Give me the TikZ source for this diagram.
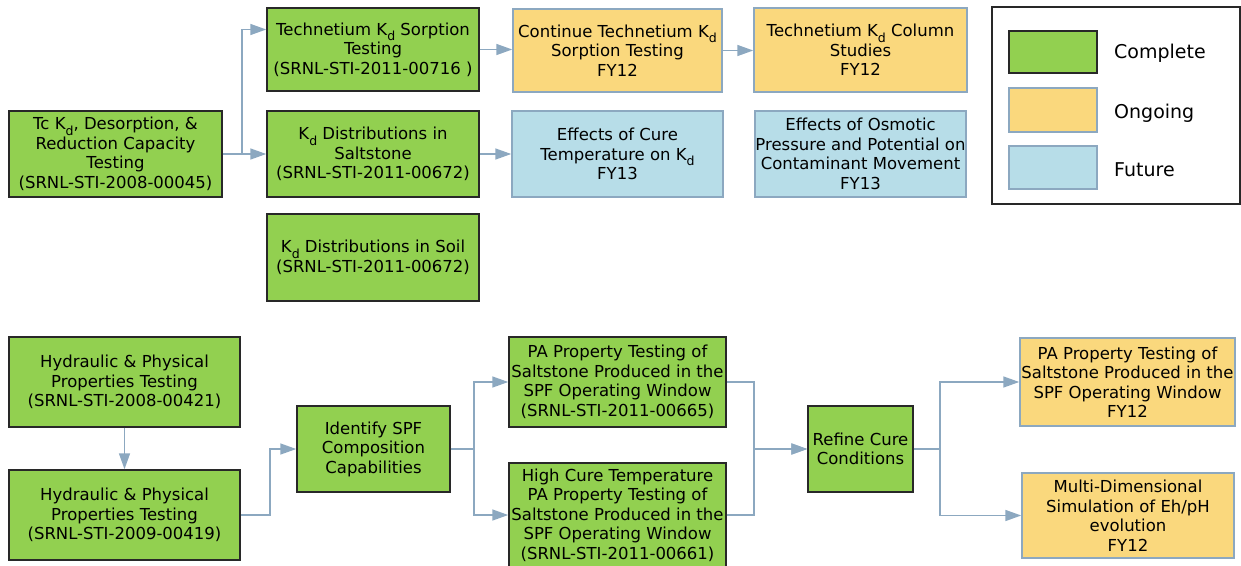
\documentclass[tikz,border=0pt]{standalone}
\usepackage{fontspec}
\setmainfont{DejaVu Sans}
\usetikzlibrary{arrows.meta}
\definecolor{cgreen}{RGB}{146,208,80}
\definecolor{cyellow}{RGB}{250,216,125}
\definecolor{cblue}{RGB}{183,221,232}
\definecolor{cedge}{RGB}{140,168,192}
\definecolor{cdark}{RGB}{40,40,40}
\newcommand\Kd{K\raisebox{-5.5pt}{\fontsize{12.5}{12.5}\selectfont d}}
\tikzset{
  basebox/.style={rectangle, inner sep=0pt, align=center, line width=1.5pt,
    font={\fontsize{16.5}{19.5}\selectfont}},
  donebox/.style={basebox, draw=cdark, fill=cgreen},
  ongoingbox/.style={basebox, draw=cedge, fill=cyellow},
  futurebox/.style={basebox, draw=cedge, fill=cblue},
  conn/.style={draw=cedge, line width=1.6pt, -{Triangle[length=16pt,width=11pt]}},
  legtext/.style={anchor=west, inner sep=0pt, font={\fontsize{19}{22}\selectfont}}
}
\begin{document}
\begin{tikzpicture}[x=1pt,y=-1pt]
\useasboundingbox (0,0) rectangle (1241,565);
% top section
\node[donebox, minimum width=213pt, minimum height=86pt] (A) at (115.5,154)
  {Tc \Kd, Desorption, \&\\Reduction Capacity\\Testing\\(SRNL-STI-2008-00045)};
\node[donebox, minimum width=212pt, minimum height=83pt] (B) at (373,49.5)
  {Technetium \Kd{} Sorption\\Testing\\(SRNL-STI-2011-00716 )};
\node[donebox, minimum width=212pt, minimum height=86pt] (C) at (373,154)
  {\Kd{} Distributions in\\Saltstone\\(SRNL-STI-2011-00672)};
\node[donebox, minimum width=212pt, minimum height=87pt] (D) at (373,257.5)
  {\Kd{} Distributions in Soil\\(SRNL-STI-2011-00672)};
\node[ongoingbox, minimum width=209pt, minimum height=83pt] (E) at (617.5,50.5)
  {Continue Technetium \Kd\\Sorption Testing\\FY12};
\node[ongoingbox, minimum width=213pt, minimum height=84pt] (F) at (860.5,50)
  {Technetium \Kd{} Column\\Studies\\FY12};
\node[futurebox, minimum width=211pt, minimum height=86pt] (G) at (617.5,154)
  {Effects of Cure\\Temperature on \Kd\\FY13};
\node[futurebox, minimum width=211pt, minimum height=86pt] (H) at (860.5,154)
  {Effects of Osmotic\\Pressure and Potential on\\Contaminant Movement\\FY13};
% legend
\node[draw=cdark, line width=1.2pt, rectangle, inner sep=0pt, minimum width=248pt, minimum height=197pt] (leg) at (1116,105.5) {};
\node[donebox, minimum width=88pt, minimum height=42pt] (lg1) at (1053,52) {};
\node[ongoingbox, minimum width=88pt, minimum height=44pt] (lg2) at (1053,110) {};
\node[futurebox, minimum width=88pt, minimum height=43pt] (lg3) at (1053,167.5) {};
\node[legtext] (lt1) at (1114,53) {Complete};
\node[legtext] (lt2) at (1114,113) {Ongoing};
\node[legtext] (lt3) at (1114,170) {Future};
% bottom section
\node[donebox, minimum width=231pt, minimum height=90pt] (I) at (124.5,382)
  {Hydraulic \& Physical\\Properties Testing\\(SRNL-STI-2008-00421)};
\node[donebox, minimum width=231pt, minimum height=90pt] (J) at (124.5,515)
  {Hydraulic \& Physical\\Properties Testing\\(SRNL-STI-2009-00419)};
\node[donebox, minimum width=153pt, minimum height=86pt] (K) at (373.5,449)
  {Identify SPF\\Composition\\Capabilities};
\node[donebox, minimum width=217pt, minimum height=90pt] (L) at (617.5,382)
  {PA Property Testing of\\Saltstone Produced in the\\SPF Operating Window\\(SRNL-STI-2011-00665)};
\node[donebox, minimum width=217pt, minimum height=104pt] (M) at (617.5,515)
  {High Cure Temperature\\PA Property Testing of\\Saltstone Produced in the\\SPF Operating Window\\(SRNL-STI-2011-00661)};
\node[donebox, minimum width=105pt, minimum height=86pt] (N) at (860.5,449)
  {Refine Cure\\Conditions};
\node[ongoingbox, minimum width=215pt, minimum height=88pt] (O) at (1127.5,382)
  {PA Property Testing of\\Saltstone Produced in the\\SPF Operating Window\\FY12};
\node[ongoingbox, minimum width=212pt, minimum height=85pt] (P) at (1128,515.5)
  {Multi-Dimensional\\Simulation of Eh/pH\\evolution\\FY12};
% connectors top
\draw[conn] (A.east) -- ++(19,0) |- ([yshift=20pt]B.west);
\draw[conn] (A.east) -- (C.west);
\draw[conn] (B.east) -- (B.east -| E.west);
\draw[conn] (E.east) -- (E.east -| F.west);
\draw[conn] (C.east) -- (G.west);
% connectors bottom
\draw[conn] (I.south) -- (J.north);
\draw[conn] (J.east) -- ++(29,0) |- (K.west);
\draw[conn] (K.east) -- ++(23,0) |- (L.west);
\draw[conn] (K.east) -- ++(23,0) |- (M.west);
\draw[conn] (L.east) -- ++(27,0) |- (N.west);
\draw[conn] (M.east) -- ++(27,0) |- (N.west);
\draw[conn] (N.east) -- ++(26,0) |- (O.west);
\draw[conn] (N.east) -- ++(26,0) |- (P.west);
\end{tikzpicture}
\end{document}
